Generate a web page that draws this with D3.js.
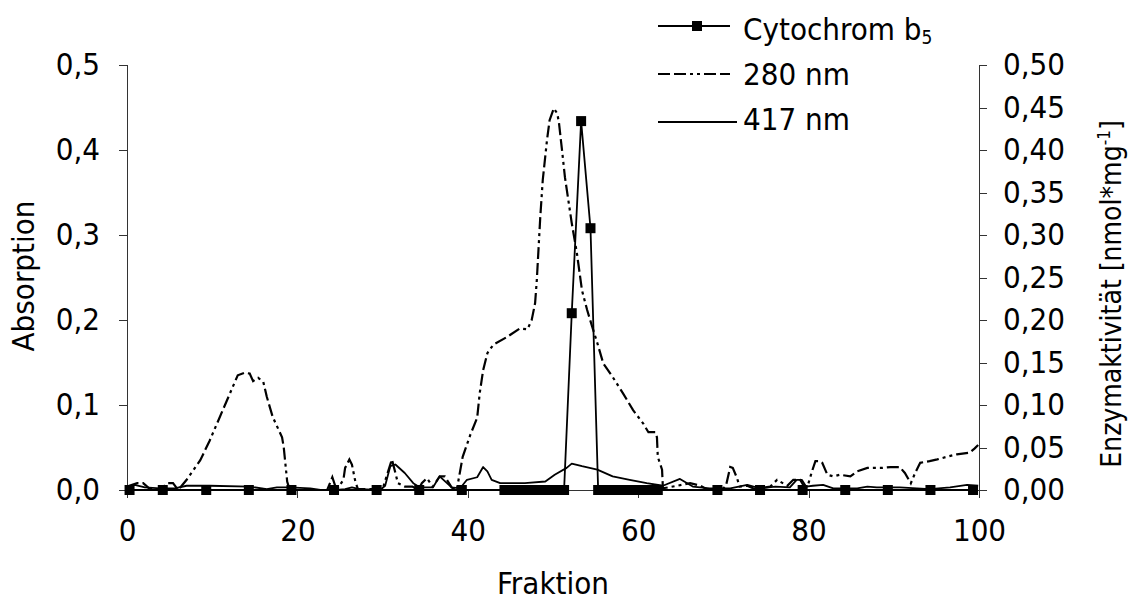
<!DOCTYPE html>
<html>
<head>
<meta charset="utf-8">
<script src="https://cdn.jsdelivr.net/npm/d3@7"></script>
<style>
  body { margin: 0; background: #fff; }
  svg { display: block; }
  .lbl { font-family: "DejaVu Sans Condensed", "DejaVu Sans", sans-serif; font-size: 31px; fill: #000; }
  .axis path, .axis line { stroke: #333; stroke-width: 1; shape-rendering: crispEdges; }
</style>
</head>
<body>
<div id="chart"></div>
<script>
var margin = { top: 65, right: 151, bottom: 113, left: 127 },
	width = 1130 - margin.left - margin.right,
	height = 603 - margin.top - margin.bottom;

// absorption at 280 nm (fraction, value)
var x280 = [0, 1.2, 1.9, 2.7, 3.9, 4.8, 5.4, 6.0, 7.0, 8.6, 9.7, 10.6, 11.5, 12.4, 13.0, 13.8, 14.4, 14.8, 15.4, 16.0,
	16.4, 17.1, 18.2, 18.4, 18.8, 19.1, 23.5, 24.1, 24.6, 25.4, 25.6, 26.1, 26.4, 26.8, 27.1, 30.0, 30.9, 31.1, 31.5, 31.8,
	32.6, 33.5, 34.2, 34.6, 35.2, 35.9, 36.7, 37.3, 38.1, 38.7, 39.4, 40.3, 41.1, 41.4, 41.8, 42.3, 43.0, 44.6, 46.1, 47.0,
	47.5, 47.9, 48.1, 48.5, 48.8, 49.3, 49.6, 50.1, 50.5, 50.7, 51.1, 51.4, 51.8, 52.2, 52.8, 53.4, 54.0, 54.6, 55.2, 55.9,
	57.0, 58.2, 59.4, 60.6, 61.2, 62.0, 62.2, 62.3, 62.8, 62.9, 64.6, 66.1, 67.3, 68.2, 69.8, 70.3, 70.8, 71.1, 71.6, 71.9,
	72.8, 73.7, 75.5, 76.3, 77.5, 78.2, 79.0, 79.6, 79.9, 80.4, 80.8, 81.3, 81.6, 82.2, 82.9, 83.7, 84.9, 85.7, 86.9, 88.7,
	89.6, 90.7, 91.3, 92.0, 92.5, 93.1, 94.2, 95.1, 96.2, 97.4, 98.9, 99.5, 99.9];
var y280 = [0.004, 0.008, 0.008, 0.001, 0.001, 0.008, 0.008, 0.0, 0.012, 0.035, 0.058, 0.079, 0.100, 0.121, 0.135, 0.138, 0.137, 0.128, 0.132, 0.127,
	0.110, 0.086, 0.062, 0.050, 0.010, 0.0, 0.0, 0.015, 0.0, 0.012, 0.026, 0.036, 0.030, 0.010, 0.001, 0.001, 0.030, 0.036, 0.020, 0.008,
	0.004, 0.004, 0.0, 0.008, 0.014, 0.004, 0.016, 0.016, 0.003, 0.0, 0.039, 0.065, 0.085, 0.114, 0.141, 0.161, 0.171, 0.180, 0.190, 0.189,
	0.200, 0.220, 0.247, 0.320, 0.365, 0.412, 0.435, 0.449, 0.443, 0.432, 0.396, 0.368, 0.341, 0.314, 0.279, 0.235, 0.212, 0.192, 0.173, 0.149,
	0.133, 0.114, 0.094, 0.078, 0.068, 0.068, 0.062, 0.039, 0.024, 0.002, 0.005, 0.008, 0.005, 0.0, 0.0, 0.005, 0.027, 0.026, 0.014, 0.004,
	0.005, 0.001, 0.004, 0.012, 0.005, 0.012, 0.012, 0.002, 0.005, 0.022, 0.034, 0.034, 0.032, 0.018, 0.016, 0.018, 0.016, 0.022, 0.026, 0.026,
	0.027, 0.027, 0.020, 0.008, 0.020, 0.032, 0.034, 0.036, 0.039, 0.042, 0.044, 0.049, 0.053];

// absorption at 417 nm
var x417 = [0, 0.9, 2.1, 3.9, 5.6, 7.0, 9.7, 14.4, 16.4, 17.6, 19.1, 21.5, 22.7, 24.6, 25.6, 26.4, 27.3, 29.7, 30.3, 30.9,
	31.5, 32.6, 33.6, 34.4, 35.9, 36.7, 38.1, 39.1, 39.9, 41.1, 41.8, 42.3, 42.8, 43.8, 46.7, 49.1, 50.2, 51.6, 52.2, 53.4,
	55.2, 57.0, 59.0, 61.0, 62.9, 64.9, 66.4, 68.4, 70.8, 72.8, 74.3, 76.1, 77.8, 78.6, 79.2, 79.7, 80.5, 81.7, 82.9, 85.7,
	86.9, 88.0, 90.7, 94.2, 96.6, 98.6, 99.9];
var y417 = [0.003, 0.006, 0.003, 0.002, 0.002, 0.005, 0.005, 0.004, 0.001, 0.003, 0.003, 0.002, 0.0, 0.0, 0.001, 0.003, 0.001, 0.0, 0.005, 0.028,
	0.030, 0.020, 0.008, 0.003, 0.003, 0.016, 0.003, 0.002, 0.012, 0.015, 0.027, 0.022, 0.012, 0.008, 0.008, 0.010, 0.018, 0.026, 0.031, 0.028,
	0.024, 0.016, 0.012, 0.008, 0.005, 0.013, 0.004, 0.002, 0.002, 0.006, 0.002, 0.004, 0.003, 0.012, 0.012, 0.004, 0.005, 0.006, 0.002, 0.002,
	0.004, 0.003, 0.003, 0.001, 0.003, 0.006, 0.005];

// cytochrom b5 activity (right axis)
var xCyt = [0.3, 4.2, 9.3, 14.3, 19.3, 24.3, 29.3, 34.3, 39.3, 44.3, 45.3, 46.3, 47.3, 48.3, 49.3, 50.3, 51.3, 52.2, 53.3, 54.4,
	55.3, 56.3, 57.3, 58.3, 59.3, 60.3, 61.3, 62.3, 69.3, 74.3, 79.3, 84.3, 89.3, 94.3, 99.3];
var yCyt = [0, 0, 0, 0, 0, 0, 0, 0, 0, 0, 0, 0, 0, 0, 0, 0, 0, 0.208, 0.434, 0.308,
	0, 0, 0, 0, 0, 0, 0, 0, 0, 0, 0, 0, 0, 0, 0];

var xTicks = [0, 20, 40, 60, 80, 100],
	yLeftTicks = [0, 0.1, 0.2, 0.3, 0.4, 0.5],
	yRightTicks = [0, 0.05, 0.1, 0.15, 0.2, 0.25, 0.3, 0.35, 0.4, 0.45, 0.5];

var legendNames = ['Cytochrom b', '280 nm', '417 nm'];

var dash280 = '12,4,12,4,3,4,3,4';

function comma(fmt) {
	var f = d3.format(fmt);
	return function(d) { return f(d).replace('.', ','); };
}

var svg = d3.select('#chart').append('svg')
	.attr('width', 1130)
	.attr('height', 603);

var g = svg.append('g')
	.attr('transform', 'translate(' + margin.left + ',' + margin.top + ')');

var x = d3.scaleLinear().domain([0, 100]).range([0, width]);
var yL = d3.scaleLinear().domain([0, 0.5]).range([height, 0]);
var yR = d3.scaleLinear().domain([0, 0.5]).range([height, 0]);

// axes
g.append('g')
	.attr('class', 'axis')
	.call(d3.axisLeft(yL).tickValues(yLeftTicks).tickFormat(comma('.1f')).tickSizeOuter(0).tickSize(8).tickPadding(19));

g.append('g')
	.attr('class', 'axis')
	.attr('transform', 'translate(' + width + ',0)')
	.call(d3.axisRight(yR).tickValues(yRightTicks).tickFormat(comma('.2f')).tickSizeOuter(0).tickSize(8).tickPadding(16));

g.append('g')
	.attr('class', 'axis')
	.attr('transform', 'translate(0,' + height + ')')
	.call(d3.axisBottom(x).tickValues(xTicks).tickFormat(d3.format('d')).tickSizeOuter(0).tickSize(8).tickPadding(21));

g.selectAll('.axis text').attr('class', 'lbl');
g.selectAll('.axis').attr('font-family', null).attr('font-size', null);

// series lines
var line280 = d3.line()
	.x(function(d, i) { return x(x280[i]); })
	.y(function(d) { return yL(d); });
var line417 = d3.line()
	.x(function(d, i) { return x(x417[i]); })
	.y(function(d) { return yL(d); });
var lineCyt = d3.line()
	.x(function(d, i) { return x(xCyt[i]); })
	.y(function(d) { return yR(d); });

g.append('path')
	.datum(y417)
	.attr('d', line417)
	.attr('fill', 'none')
	.attr('stroke', '#000')
	.attr('stroke-width', 1.8)
	.attr('stroke-linejoin', 'round');

g.append('path')
	.datum(y280)
	.attr('d', line280)
	.attr('fill', 'none')
	.attr('stroke', '#000')
	.attr('stroke-width', 2.2)
	.attr('stroke-dasharray', dash280);

g.append('path')
	.datum(yCyt)
	.attr('d', lineCyt)
	.attr('fill', 'none')
	.attr('stroke', '#000')
	.attr('stroke-width', 1.8);

g.selectAll('.mark')
	.data(yCyt)
	.enter().append('rect')
	.attr('class', 'mark')
	.attr('x', function(d, i) { return x(xCyt[i]) - 5; })
	.attr('y', function(d) { return yR(d) - 5; })
	.attr('width', 10)
	.attr('height', 10)
	.attr('fill', '#000');

// axis titles
svg.append('text')
	.attr('class', 'lbl')
	.attr('text-anchor', 'middle')
	.attr('transform', 'translate(34,276) rotate(-90)')
	.text('Absorption');

svg.append('text')
	.attr('class', 'lbl')
	.attr('text-anchor', 'middle')
	.attr('x', 553)
	.attr('y', 594)
	.text('Fraktion');

var rt = svg.append('text')
	.attr('class', 'lbl')
	.attr('text-anchor', 'middle')
	.style('font-size', '28px')
	.attr('transform', 'translate(1121,294) rotate(-90)');
rt.append('tspan').text('Enzymaktivität [nmol*mg');
rt.append('tspan').style('font-size', '17px').attr('dy', -11).text('-1');
rt.append('tspan').attr('dy', 11).text(']');

// legend
var leg = svg.append('g').attr('transform', 'translate(658,0)');
var rowsY = [26, 74, 122];

leg.append('line').attr('x1', 0).attr('x2', 72).attr('y1', rowsY[0]).attr('y2', rowsY[0])
	.attr('stroke', '#000').attr('stroke-width', 1.8);
leg.append('rect').attr('x', 34).attr('y', rowsY[0] - 5).attr('width', 10).attr('height', 10).attr('fill', '#000');
leg.append('line').attr('x1', 0).attr('x2', 72).attr('y1', rowsY[1]).attr('y2', rowsY[1])
	.attr('stroke', '#000').attr('stroke-width', 2.2).attr('stroke-dasharray', dash280);
leg.append('line').attr('x1', 0).attr('x2', 79).attr('y1', rowsY[2]).attr('y2', rowsY[2])
	.attr('stroke', '#000').attr('stroke-width', 1.8);

var t0 = leg.append('text').attr('class', 'lbl').attr('x', 85).attr('y', rowsY[0] + 14);
t0.append('tspan').text(legendNames[0]);
t0.append('tspan').style('font-size', '19px').attr('dy', 4).text('5');

leg.append('text').attr('class', 'lbl').attr('x', 85).attr('y', rowsY[1] + 11).text(legendNames[1]);
leg.append('text').attr('class', 'lbl').attr('x', 85).attr('y', rowsY[2] + 8).text(legendNames[2]);
</script>
</body>
</html>
